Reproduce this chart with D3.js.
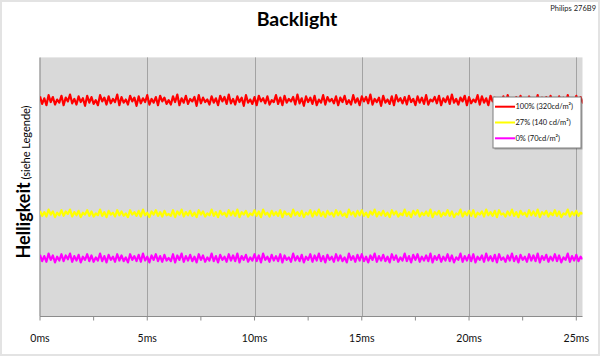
<!DOCTYPE html>
<html><head><meta charset="utf-8">
<script src="https://cdn.jsdelivr.net/npm/d3@7"></script>
<style>html,body{margin:0;padding:0;background:#fff}svg{display:block}</style>
</head><body><svg id="c" width="600" height="356"></svg>
<script>
const title = "Backlight";
const subtitle = "Philips 276B9";
const yLabel = "Helligkeit";
const yLabelSmall = " (siehe Legende)";
const xTicks = [0, 5, 10, 15, 20, 25];
const xMinorTicks = [2.5, 7.5, 12.5, 17.5, 22.5];
const xTickLabels = ["0ms", "5ms", "10ms", "15ms", "20ms", "25ms"];
const sampleStepMs = 0.1;
const seriesNames = ["100% (320cd/m²)", "27% (140 cd/m²)", "0% (70cd/m²)"];
const seriesColors = ["#ff0000", "#ffff00", "#ff00ff"];

const red = [326,314,323,312,328,317,325,313,321,316,327,312,324,318,329,315,322,313,326,317,
323,311,327,316,325,314,320,312,328,318,324,313,326,315,322,317,329,312,325,316,
321,313,327,318,324,311,326,315,323,317,328,313,322,316,325,312,327,318,324,314,
320,313,326,317,329,312,323,316,327,314,322,318,325,311,328,315,324,317,321,313,
326,316,323,312,327,318,325,314,329,315,322,313,326,317,324,311,328,316,321,314,
325,312,327,318,323,315,326,313,320,317,328,314,324,312,327,316,322,318,325,313,
329,315,323,311,326,317,324,314,327,312,321,316,328,313,325,318,322,315,326,312,
324,317,327,314,320,313,328,316,323,312,326,318,325,315,329,313,322,317,324,311,
327,316,321,314,326,312,328,318,323,315,325,313,327,317,322,312,326,316,324,314,
328,313,321,318,325,315,327,312,323,317,326,314,329,316,322,313,324,318,327,312,
325,315,321,317,328,313,326,316,323,312,327,318,324,314,320,315,326,313,328,317,
322,312,325,316,327,314,323,318,326,313,321,315,328,312,324,317,
325,314,327,316,322,313,326,318,324,312,328,315,321,317,327,313,325,316,323,314,326,319];

const yellow = [144,136,142,135,146,138,143,134,141,137,145,136,143,139,146,135,142,137,144,134,
141,138,145,136,143,135,140,137,146,136,142,134,144,138,141,135,145,137,143,136,
140,134,145,138,142,136,144,135,146,137,141,134,143,138,145,136,142,135,144,137,
139,136,145,134,143,138,146,135,142,137,144,136,141,134,145,138,143,135,140,137,
146,136,142,134,144,138,141,135,145,137,143,136,146,134,142,138,144,135,140,137,
145,136,143,134,146,138,141,135,144,137,142,136,145,134,143,138,140,135,146,137,
142,136,144,134,141,138,145,135,143,137,146,136,142,134,144,138,141,135,145,137,
143,136,140,134,146,138,142,135,144,137,145,136,141,134,143,138,146,135,142,137,
144,136,141,134,145,138,143,135,140,137,146,136,142,134,144,138,145,135,141,137,
143,136,146,134,142,138,144,135,141,137,145,136,143,134,140,138,146,135,142,137,
144,136,145,134,141,138,143,135,146,137,142,136,144,134,145,138,140,135,143,137,
146,136,142,134,144,138,141,135,145,137,143,136,
146,134,142,138,144,135,141,137,145,136,143,134,140,138,146,135,142,137,144,136,141,139];

const magenta = [74,64,72,63,76,66,73,62,71,65,75,64,73,67,76,63,72,65,74,62,
71,66,75,64,73,63,70,65,76,64,72,62,74,66,71,63,75,65,73,64,
70,62,75,66,72,64,74,63,76,65,71,62,73,66,75,64,72,63,74,65,
69,64,75,62,73,66,76,63,72,65,74,64,71,62,75,66,73,63,70,65,
76,64,72,62,74,66,71,63,75,65,73,64,76,62,72,66,74,63,70,65,
75,64,73,62,76,66,71,63,74,65,72,64,75,62,73,66,70,63,76,65,
72,64,74,62,71,66,75,63,73,65,76,64,72,62,74,66,71,63,75,65,
73,64,70,62,76,66,72,63,74,65,75,64,71,62,73,66,76,63,72,65,
74,64,71,62,75,66,73,63,70,65,76,64,72,62,74,66,75,63,71,65,
73,64,76,62,72,66,74,63,71,65,75,64,73,62,70,66,76,63,72,65,
74,64,75,62,71,66,73,63,76,65,72,64,74,62,75,66,70,63,73,65,
76,64,72,62,74,66,71,63,75,65,73,64,
76,62,72,66,74,63,71,65,75,64,73,62,70,66,76,63,72,65,74,64,71,67];

const series = [red, yellow, magenta];

const svg = d3.select("#c");
const font = "Lato, 'Open Sans', sans-serif";

// outer frame
svg.append("rect").attr("x",1).attr("y",1).attr("width",598).attr("height",354)
  .attr("fill","#fff").attr("stroke","#e3e3e3").attr("stroke-width",2);

const x = d3.scaleLinear().domain([0, 25]).range([40, 576.3]);
const y = d3.scaleLinear().domain([-24, 388]).range([316.5, 57.4]);
const xMax = x.invert(582.5);

// plot area
svg.append("rect").attr("x", x(0)).attr("y", y(388))
  .attr("width", x(xMax) - x(0)).attr("height", y(-24) - y(388))
  .attr("fill", "#d9d9d9");

// gridlines
svg.append("g").selectAll("line").data(xTicks.slice(1)).join("line")
  .attr("x1", d => Math.round(x(d)) + 0.5).attr("x2", d => Math.round(x(d)) + 0.5)
  .attr("y1", y(388)).attr("y2", y(-24))
  .attr("stroke", "#a3a3a3").attr("stroke-width", 1);

// left axis line
svg.append("line").attr("x1", x(0)).attr("x2", x(0)).attr("y1", y(388)).attr("y2", y(-24))
  .attr("stroke", "#a0a0a0").attr("stroke-width", 1.5);

// clip
svg.append("clipPath").attr("id","clip").append("rect")
  .attr("x", x(0)).attr("y", y(388)).attr("width", x(xMax) - x(0)).attr("height", y(-24) - y(388));

const line = d3.line().x((d, i) => x(i * sampleStepMs)).y(d => y(d));
svg.append("g").attr("clip-path","url(#clip)").selectAll("path").data(series).join("path")
  .attr("d", d => line(d)).attr("fill","none")
  .attr("stroke", (d, i) => seriesColors[i]).attr("stroke-width", 2.2)
  .attr("stroke-linejoin","round");

// x axis
const axisG = svg.append("g").attr("transform", `translate(0,${y(-24)})`);
axisG.append("line").attr("x1", x(0)).attr("x2", x(xMax)).attr("stroke","#8c8c8c").attr("stroke-width",1.2);
axisG.selectAll("line.t").data(xTicks.concat(xMinorTicks)).join("line").attr("class","t")
  .attr("x1", d => x(d)).attr("x2", d => x(d)).attr("y1", 0).attr("y2", 4)
  .attr("stroke","#8c8c8c").attr("stroke-width",1);
axisG.selectAll("text").data(xTicks).join("text")
  .attr("x", d => x(d)).attr("y", 25).attr("text-anchor","middle")
  .attr("font-family", font).attr("font-size", 10.5).attr("fill","#111")
  .text((d, i) => xTickLabels[i]);

// title
svg.append("text").attr("x", 297).attr("y", 26).attr("text-anchor","middle")
  .attr("font-family", font).attr("font-weight","bold").attr("font-size", 19.5).attr("fill","#000")
  .text(title);
svg.append("text").attr("x", 596).attr("y", 11).attr("text-anchor","end")
  .attr("font-family", font).attr("font-size", 7.5).attr("fill","#222")
  .text(subtitle);

// y label
const yl = svg.append("text").attr("transform","translate(30,182) rotate(-90)")
  .attr("text-anchor","middle").attr("font-family", font).attr("fill","#000");
yl.append("tspan").attr("font-weight","bold").attr("font-size", 18).text(yLabel);
yl.append("tspan").attr("font-size", 11).text(yLabelSmall);

// legend
const lg = svg.append("g");
lg.append("rect").attr("x", 494.5).attr("y", 98.5).attr("width", 88).attr("height", 51)
  .attr("fill","#000").attr("opacity",0.25);
lg.append("rect").attr("x", 493).attr("y", 97).attr("width", 88).attr("height", 51)
  .attr("fill","#fff").attr("stroke","#7f7f7f").attr("stroke-width",1);
const rows = lg.selectAll("g").data(seriesNames).join("g")
  .attr("transform", (d, i) => `translate(0,${106.7 + i * 15.8})`);
rows.append("line").attr("x1", 495).attr("x2", 515).attr("stroke", (d, i) => seriesColors[i]).attr("stroke-width", 2);
rows.append("text").attr("x", 515.5).attr("y", 2.5).attr("font-family", font).attr("font-size", 7.5).attr("fill","#111")
  .text(d => d);
</script></body></html>
